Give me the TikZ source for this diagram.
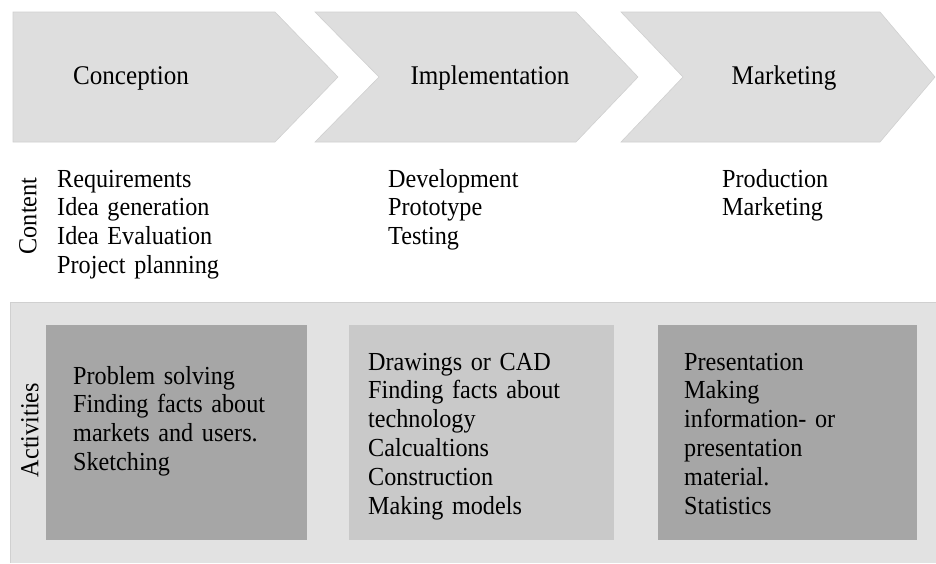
\documentclass[tikz,border=0pt]{standalone}
\usepackage{fontspec}
\setmainfont{Liberation Serif}[FakeStretch=0.93,WordSpace=0.85]
\definecolor{chevfill}{HTML}{DEDEDE}
\definecolor{chevedge}{HTML}{D0D0D0}
\definecolor{panelfill}{HTML}{E2E2E2}
\definecolor{darkbox}{HTML}{A6A6A6}
\definecolor{lightbox}{HTML}{C9C9C9}
\begin{document}
		\begin{tikzpicture}[x=1pt,y=-1pt,
			phase/.style={fill=chevfill,draw=chevedge,line width=0.6pt},
			phasetext/.style={font=\fontsize{27}{29}\selectfont,inner sep=0pt,anchor=base},
			itemtext/.style={font=\fontsize{26}{28.8}\selectfont,align=left,text width=240pt,inner sep=0pt,anchor=base west},
			sidetext/.style={font=\fontsize{26}{29}\selectfont,inner sep=0pt,rotate=90},
			actbox/.style={draw=none,minimum width=#1,minimum height=215pt,inner sep=0pt,anchor=north west}]
			\useasboundingbox (0,0) rectangle (936,563);
			% phases
			\draw [phase] (13,12) -- (275,12) -- (338,77) -- (275,142) -- (13,142) -- cycle;
			\draw [phase] (315,12) -- (576,12) -- (638,77) -- (576,142) -- (315,142) -- (379,77) -- cycle;
			\draw [phase] (621,12) -- (880,12) -- (935,77) -- (880,142) -- (621,142) -- (683,77) -- cycle;
			\node [phasetext] (conception) at (131,84) {Conception};
			\node [phasetext] (implementation) at (490,84) {Implementation};
			\node [phasetext] (marketing) at (784,84) {Marketing};
			% content
			\node [sidetext] (content) at (28,216) {Content};
			\node [itemtext] (conccontent) at (57,187) {Requirements\\Idea generation\\Idea Evaluation\\Project planning};
			\node [itemtext] (implcontent) at (388,187) {Development\\Prototype\\Testing};
			\node [itemtext] (markcontent) at (722,187) {Production\\Marketing};
			% activities
			\fill [panelfill] (10,302) rectangle (936,563);
			\draw [chevedge,line width=0.6pt] (10,563) -- (10,302) -- (936,302);
			\node [sidetext] (activities) at (30,430) {Activities};
			\node [actbox=261pt,fill=darkbox] (concbox) at (46,325) {};
			\node [actbox=265pt,fill=lightbox] (implbox) at (349,325) {};
			\node [actbox=259pt,fill=darkbox] (markbox) at (658,325) {};
			\node [itemtext] (concact) at (73,384) {Problem solving\\Finding facts about\\markets and users.\\Sketching};
			\node [itemtext] (implact) at (368,370) {Drawings or CAD\\Finding facts about\\technology\\Calcualtions\\Construction\\Making models};
			\node [itemtext] (markact) at (684,370) {Presentation\\Making\\information- or\\presentation\\material.\\Statistics};
		\end{tikzpicture}
\end{document}
